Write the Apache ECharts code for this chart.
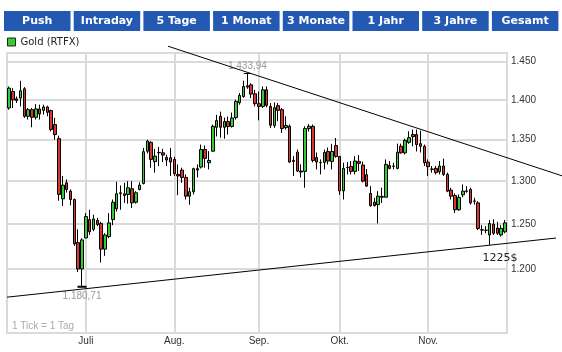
<!DOCTYPE html>
<html>
<head>
<meta charset="utf-8">
<script src="https://cdn.jsdelivr.net/npm/echarts@6/dist/echarts.min.js"></script>
<style>
html, body { margin: 0; padding: 0; background: #fff; }
#chart { width: 562px; height: 352px; }
</style>
</head>
<body>
<div id="chart"></div>
<script>
// Handelstage Mo-Fr, 03.06.2013 - 29.11.2013
var startDay = '2013-06-03'
var endDay = '2013-11-29'
var monthNames = ['Jan.', 'Feb.', 'März', 'Apr.', 'Mai', 'Juni', 'Juli', 'Aug.', 'Sep.', 'Okt.', 'Nov.', 'Dez.']

// Kurse Gold (RTFX)
var opens = [1389.6, 1410.6, 1401.3, 1402.2, 1414.1, 1379.1, 1387.5, 1377.9, 1388.4, 1386.6,
  1390.9, 1386.3, 1368.8, 1351.3, 1279.2, 1298.1, 1288.2, 1278.4, 1229.2, 1200.0,
  1234.4, 1255.2, 1244.1, 1254.3, 1250.8, 1221.9, 1235.9, 1255.2, 1267.7, 1285.5,
  1285.1, 1284.3, 1291.0, 1275.2, 1290.2, 1297.3, 1336.0, 1346.8, 1323.3, 1334.0,
  1334.0, 1328.4, 1328.0, 1326.0, 1308.0, 1313.2, 1304.4, 1282.3, 1287.5, 1314.9,
  1316.8, 1338.0, 1322.0, 1336.0, 1365.4, 1379.1, 1365.4, 1372.5, 1366.3, 1377.5,
  1396.3, 1404.2, 1417.9, 1419.2, 1407.7, 1395.0, 1391.6, 1412.8, 1391.6, 1367.5,
  1392.5, 1387.5, 1365.0, 1366.6, 1324.8, 1334.8, 1312.0, 1311.6, 1363.8, 1366.6,
  1328.4, 1322.4, 1322.4, 1335.6, 1323.6, 1342.8, 1329.6, 1288.6, 1316.4, 1317.6,
  1311.6, 1323.6, 1319.2, 1307.6, 1285.5, 1275.2, 1272.5, 1281.1, 1281.1, 1318.8,
  1317.6, 1315.2, 1342.0, 1334.0, 1346.8, 1356.3, 1356.3, 1345.2, 1342.0, 1322.8,
  1314.4, 1315.2, 1311.2, 1318.0, 1308.0, 1289.4, 1283.1, 1266.5, 1283.9, 1288.0,
  1290.2, 1276.8, 1274.5, 1243.6, 1243.3, 1237.8, 1250.0, 1245.6, 1237.8, 1241.4]
var closes = [1415.0, 1400.0, 1399.1, 1411.5, 1379.1, 1387.5, 1377.9, 1388.4, 1382.1, 1390.9,
  1384.1, 1362.5, 1356.3, 1284.3, 1295.3, 1290.2, 1278.4, 1227.8, 1200.0, 1232.2,
  1258.7, 1241.4, 1256.0, 1249.7, 1221.9, 1237.8, 1251.5, 1275.2, 1285.1, 1286.3,
  1283.1, 1292.2, 1274.5, 1286.3, 1295.3, 1335.3, 1348.4, 1326.0, 1330.0, 1334.5,
  1331.2, 1325.2, 1322.8, 1308.9, 1306.2, 1304.4, 1282.3, 1287.5, 1314.9, 1313.2,
  1338.0, 1327.2, 1324.8, 1366.6, 1373.8, 1365.4, 1372.5, 1366.3, 1377.1, 1397.9,
  1405.5, 1417.1, 1416.3, 1407.3, 1395.0, 1391.6, 1412.8, 1392.9, 1367.9, 1390.0,
  1386.6, 1363.8, 1367.5, 1322.8, 1323.6, 1312.0, 1310.8, 1363.8, 1366.6, 1324.8,
  1322.8, 1322.0, 1334.4, 1324.0, 1335.6, 1329.6, 1288.6, 1315.2, 1316.0, 1311.6,
  1324.0, 1321.2, 1300.0, 1294.1, 1271.3, 1271.3, 1282.3, 1282.0, 1320.0, 1315.2,
  1318.0, 1334.8, 1334.0, 1349.2, 1352.5, 1353.8, 1344.0, 1342.0, 1322.0, 1317.3,
  1314.0, 1310.1, 1318.0, 1308.0, 1288.2, 1282.3, 1266.5, 1280.9, 1288.2, 1288.5,
  1274.5, 1276.4, 1245.2, 1243.3, 1243.0, 1250.8, 1239.7, 1239.7, 1245.2, 1251.5]
var lows = [1387.5, 1389.6, 1395.9, 1391.6, 1377.1, 1375.0, 1365.4, 1375.0, 1375.0, 1381.3,
  1379.1, 1360.4, 1350.0, 1277.0, 1270.8, 1286.5, 1271.6, 1225.6, 1196.7, 1180.71,
  1234.0, 1237.8, 1242.0, 1247.8, 1207.0, 1214.4, 1234.1, 1248.9, 1264.5, 1266.5,
  1274.5, 1273.6, 1268.6, 1273.6, 1289.0, 1296.1, 1333.2, 1316.0, 1310.1, 1318.0,
  1322.8, 1318.0, 1306.2, 1306.2, 1283.5, 1298.1, 1278.4, 1272.4, 1284.3, 1304.4,
  1315.0, 1316.0, 1314.0, 1335.3, 1354.0, 1352.5, 1351.3, 1356.3, 1365.0, 1375.0,
  1393.8, 1402.6, 1414.1, 1402.2, 1391.6, 1374.1, 1389.6, 1390.4, 1364.6, 1364.6,
  1372.9, 1358.4, 1362.5, 1322.0, 1306.2, 1310.8, 1304.4, 1292.2, 1360.0, 1322.4,
  1314.0, 1308.0, 1314.0, 1320.0, 1314.0, 1328.0, 1283.9, 1278.4, 1308.0, 1308.0,
  1308.0, 1312.0, 1298.5, 1293.4, 1270.0, 1270.3, 1250.8, 1274.5, 1280.4, 1314.0,
  1314.0, 1314.0, 1332.9, 1332.0, 1345.0, 1342.0, 1335.6, 1334.4, 1318.0, 1306.2,
  1310.0, 1308.0, 1308.0, 1306.2, 1287.0, 1278.4, 1262.7, 1265.3, 1281.1, 1286.3,
  1272.5, 1272.5, 1243.3, 1237.8, 1239.7, 1226.7, 1237.8, 1237.8, 1235.9, 1239.7]
var highs = [1417.1, 1415.0, 1404.2, 1424.4, 1416.3, 1389.6, 1389.6, 1394.6, 1393.8, 1393.8,
  1392.5, 1387.5, 1377.1, 1355.0, 1306.2, 1302.0, 1290.2, 1279.6, 1244.1, 1234.1,
  1262.7, 1266.5, 1260.8, 1257.3, 1252.7, 1239.7, 1262.7, 1278.4, 1299.3, 1294.9,
  1298.1, 1300.0, 1300.0, 1288.2, 1298.8, 1340.0, 1350.0, 1348.0, 1338.8, 1341.2,
  1338.8, 1331.7, 1340.0, 1329.2, 1320.0, 1316.0, 1308.0, 1292.2, 1316.0, 1320.0,
  1344.0, 1342.8, 1336.0, 1368.8, 1381.0, 1385.0, 1377.5, 1378.8, 1383.8, 1400.0,
  1408.6, 1424.7, 1433.94, 1421.4, 1412.8, 1410.6, 1417.1, 1417.1, 1395.9, 1396.6,
  1395.9, 1389.6, 1379.1, 1368.8, 1330.0, 1338.0, 1320.0, 1366.6, 1369.4, 1368.8,
  1334.4, 1326.0, 1338.0, 1340.4, 1344.8, 1352.1, 1330.0, 1322.0, 1322.8, 1324.0,
  1330.0, 1331.2, 1323.3, 1314.4, 1294.1, 1280.4, 1288.2, 1292.2, 1326.0, 1324.0,
  1322.0, 1345.2, 1345.2, 1351.3, 1360.4, 1362.5, 1362.5, 1361.2, 1344.0, 1326.0,
  1318.0, 1318.0, 1324.0, 1326.9, 1310.1, 1292.2, 1285.5, 1284.3, 1296.1, 1294.1,
  1292.2, 1280.4, 1276.4, 1248.9, 1247.8, 1254.7, 1255.5, 1252.7, 1248.9, 1254.7]

var yTicks = [1200, 1250, 1300, 1350, 1400, 1450]
var buttonLabels = ['Push', 'Intraday', '5 Tage', '1 Monat', '3 Monate', '1 Jahr', '3 Jahre', 'Gesamt']

// Trendlinien: je zwei Stuetzpunkte [Tag-Index, Kurs]
var upperTrend = [[62, 1435.5], [106, 1364.5]]
var lowerTrend = [[19, 1178.2], [125, 1226.3]]
var highIdx = 62
var lowIdx = 19
var supportText = '1225$'

function tradingDays(a, b) {
  var out = []
  var d = new Date(a + 'T00:00:00Z')
  var end = new Date(b + 'T00:00:00Z')
  while (d <= end) {
    var wd = d.getUTCDay()
    if (wd !== 0 && wd !== 6) out.push(d.toISOString().slice(0, 10))
    d.setUTCDate(d.getUTCDate() + 1)
  }
  return out
}

function fmtDe(v, dec) {
  var s = v.toFixed(dec).split('.')
  var head = s[0].replace(/\B(?=(\d{3})+(?!\d))/g, '.')
  return dec ? head + ',' + s[1] : head
}

var days = tradingDays(startDay, endDay)
var candles = days.map(function (d, i) {
  return [opens[i], closes[i], lows[i], highs[i]]
})

function isMonthStart(i) {
  return i > 0 && days[i].slice(5, 7) !== days[i - 1].slice(5, 7)
}

var gridColor = '#dadada'
var chart = echarts.init(document.getElementById('chart'))

chart.setOption({
  animation: false,
  textStyle: { fontFamily: 'Liberation Sans' },
  legend: {
    left: 7,
    top: 37,
    padding: 0,
    itemWidth: 8,
    itemHeight: 8,
    itemGap: 10,
    itemTextGap: 4,
    selectedMode: false,
    textStyle: { fontSize: 10, color: '#222', fontFamily: 'DejaVu Sans' },
    data: [{
      name: 'Gold (RTFX)',
      icon: 'rect',
      itemStyle: { color: '#33cc33', borderColor: '#222', borderWidth: 1 },
    }],
  },
  grid: {
    left: 7,
    right: 55,
    top: 53,
    bottom: 19,
    show: true,
    borderColor: gridColor,
    borderWidth: 2,
  },
  xAxis: {
    type: 'category',
    data: days,
    boundaryGap: true,
    axisLine: { show: false },
    axisTick: { show: false, alignWithLabel: true, interval: isMonthStart },
    axisLabel: {
      interval: isMonthStart,
      formatter: function (v) { return monthNames[+v.slice(5, 7) - 1] },
      color: '#333',
      fontSize: 10,
      margin: 3,
    },
    splitLine: {
      show: true,
      interval: isMonthStart,
      alignWithLabel: true,
      lineStyle: { color: gridColor, width: 2 },
    },
  },
  yAxis: {
    type: 'log',
    logBase: 10,
    position: 'right',
    min: 1132,
    max: 1461,
    axisLine: { show: false },
    axisTick: { show: false, customValues: yTicks },
    axisLabel: {
      customValues: yTicks,
      formatter: function (v) { return fmtDe(v, 0) },
      color: '#333',
      fontSize: 10,
      margin: 4,
    },
    splitLine: { show: true, lineStyle: { color: gridColor, width: 2 } },
  },
  series: [{
    name: 'Gold (RTFX)',
    type: 'candlestick',
    data: candles,
    barWidth: 3,
    itemStyle: {
      color: '#33cc33',
      color0: '#dd3333',
      borderColor: '#000',
      borderColor0: '#000',
      borderWidth: 1,
    },
    markPoint: {
      symbol: 'rect',
      itemStyle: { color: '#000' },
      label: { color: '#999', fontSize: 10 },
      data: [
        {
          coord: [days[highIdx], highs[highIdx]],
          symbolSize: [7, 1],
          label: { position: 'top', distance: 2, formatter: fmtDe(highs[highIdx], 2) },
        },
        {
          coord: [days[lowIdx], lows[lowIdx]],
          symbolSize: [9, 2],
          label: { position: 'bottom', distance: 3, formatter: fmtDe(lows[lowIdx], 2) },
        },
      ],
    },
  }],
})

// Trendlinie ueber zwei Stuetzpunkte, in Pixeln verlaengert
function trendLine(anchors, xFrom, xTo) {
  var p = chart.convertToPixel({ seriesIndex: 0 }, [days[anchors[0][0]], anchors[0][1]])
  var q = chart.convertToPixel({ seriesIndex: 0 }, [days[anchors[1][0]], anchors[1][1]])
  var k = (q[1] - p[1]) / (q[0] - p[0])
  return {
    type: 'line',
    z: 20,
    shape: { x1: xFrom, y1: p[1] + (xFrom - p[0]) * k, x2: xTo, y2: p[1] + (xTo - p[0]) * k },
    style: { stroke: '#000', lineWidth: 1 },
  }
}

var graphics = []
buttonLabels.forEach(function (label, i) {
  var x = 4 + i * 69.7
  graphics.push({
    type: 'rect',
    shape: { x: x, y: 11, width: 66.5, height: 20 },
    style: { fill: '#2359b3' },
  })
  graphics.push({
    type: 'text',
    x: x + 33.25,
    y: 21,
    style: {
      text: label,
      fill: '#fff',
      font: 'bold 11px "DejaVu Sans"',
      align: 'center',
      verticalAlign: 'middle',
    },
  })
})
graphics.push(trendLine(upperTrend, 168, 562))
graphics.push(trendLine(lowerTrend, 7, 556))
graphics.push({
  type: 'text',
  x: 12,
  y: 326,
  style: { text: '1 Tick = 1 Tag', fill: '#aaa', font: '10px "Liberation Sans"', verticalAlign: 'middle' },
})
graphics.push({
  type: 'text',
  x: 500,
  y: 258,
  style: { text: supportText, fill: '#222', font: '11px "DejaVu Sans"', align: 'center', verticalAlign: 'middle' },
})

chart.setOption({ graphic: graphics })
</script>
</body>
</html>
